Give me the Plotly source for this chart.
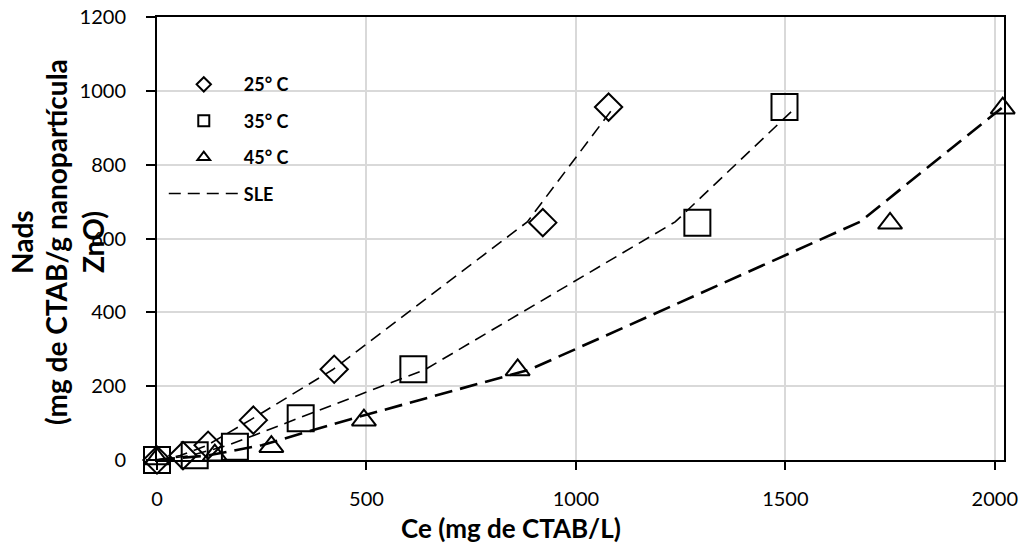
import plotly.graph_objects as go

# ---- data ----
x25 = [0, 62, 122, 230, 423, 921, 1078]
y25 = [0, 12, 40, 108, 246, 643, 956]
x35 = [0, 90, 186, 343, 612, 1290, 1498]
y35 = [0, 13, 36, 113, 246, 643, 956]
x45 = [0, 138, 273, 494, 861, 1750, 2019]
y45 = [3, 13, 36, 108, 244, 641, 953]

# SLE model curves (model Ce at the same Nads levels)
sle_y = [0, 12, 40, 110, 245, 645, 955]
sle25_x = [0, 55, 120, 225, 420, 884, 1090]
sle35_x = [0, 80, 170, 330, 640, 1237, 1525]
sle45_x = [0, 120, 250, 460, 890, 1678, 2018]

legend_names = ["25° C", "35° C", "45° C"]
x_ticks = [0, 500, 1000, 1500, 2000]
y_ticks = [0, 200, 400, 600, 800, 1000, 1200]

FONT = "Lato"
fig = go.Figure()

# SLE lines
fig.add_trace(go.Scatter(x=sle25_x, y=sle_y, mode="lines", showlegend=False,
                         line=dict(color="black", width=1.6, dash="12px,7px")))
fig.add_trace(go.Scatter(x=sle35_x, y=sle_y, mode="lines", showlegend=False,
                         line=dict(color="black", width=1.6, dash="12px,7px")))
fig.add_trace(go.Scatter(x=sle45_x, y=sle_y, mode="lines", showlegend=False,
                         line=dict(color="black", width=2.6, dash="18px,8px")))

# data markers
fig.add_trace(go.Scatter(x=x25, y=y25, mode="markers", showlegend=False, cliponaxis=False,
                         marker=dict(symbol="diamond-open", size=21, color="black",
                                     line=dict(width=2, color="black"))))
fig.add_trace(go.Scatter(x=x35, y=y35, mode="markers", showlegend=False, cliponaxis=False,
                         marker=dict(symbol="square-open", size=26, color="black",
                                     line=dict(width=2, color="black"))))
fig.add_trace(go.Scatter(x=x45, y=y45, mode="markers", showlegend=False, cliponaxis=False,
                         marker=dict(symbol="triangle-up-open", size=21, color="black",
                                     line=dict(width=2, color="black"))))

# legend-only entries
syms = ["diamond-open", "square-open", "triangle-up-open"]
for i, (nm, s) in enumerate(zip(legend_names, syms)):
    fig.add_trace(go.Scatter(x=[None], y=[None], mode="markers", name=nm,
                             legendgroup=f"g{i}",
                             marker=dict(symbol=s, size=11, color="black",
                                         line=dict(width=2, color="black"))))
fig.add_trace(go.Scatter(x=[None], y=[None], mode="lines", name="SLE",
                         legendgroup="g3",
                         line=dict(color="black", width=1.6, dash="12px,7px")))

fig.update_layout(
    width=1024, height=548,
    margin=dict(l=157, r=20, t=17, b=88, autoexpand=False),
    paper_bgcolor="white", plot_bgcolor="white",
    font=dict(family=FONT, color="black", size=19),
    showlegend=True,
    legend=dict(x=0.008, y=0.889, xanchor="left", yanchor="top",
                itemwidth=70,
                bgcolor="rgba(0,0,0,0)", tracegroupgap=10,
                font=dict(family=FONT, size=18, color="black", weight="bold")),
    xaxis=dict(range=[0, 2022], tickvals=x_ticks, ticktext=[str(v) for v in x_ticks],
               showgrid=True, gridcolor="#d9d9d9", gridwidth=1.5,
               showline=True, linecolor="black", linewidth=2, mirror=True,
               ticks="outside", ticklen=8, tickwidth=1.5, tickcolor="black",
               ticklabelstandoff=12, zeroline=False, automargin=False,
               tickfont=dict(family=FONT, size=20)),
    yaxis=dict(range=[0, 1200], tickvals=y_ticks, ticktext=[str(v) for v in y_ticks],
               showgrid=True, gridcolor="#d9d9d9", gridwidth=1.5,
               showline=True, linecolor="black", linewidth=2, mirror=True,
               ticks="outside", ticklen=9, tickwidth=1.5, tickcolor="black",
               ticklabelstandoff=16, zeroline=False, automargin=False,
               tickfont=dict(family=FONT, size=20)),
)

W, H = 847, 443
def px(xp):
    return (xp - 157) / W
def py(yp):
    return (460 - yp) / H

# x-axis title
fig.add_annotation(text="<b>Ce (mg de CTAB/L)</b>", xref="paper", yref="paper",
                   x=px(511), y=py(528), xanchor="center", yanchor="middle",
                   showarrow=False, font=dict(family=FONT, size=26, color="black"))

# y-axis title lines
ytitle_lines = [("Nads", 22), ("(mg de CTAB/g nanopartícula", 56), ("ZnO)", 93)]
for txt, xc in ytitle_lines:
    fig.add_annotation(text=f"<b>{txt}</b>", xref="paper", yref="paper",
                       x=px(xc), y=py(242), xanchor="center", yanchor="middle",
                       textangle=-90, showarrow=False,
                       font=dict(family=FONT, size=28, color="black"))

fig.write_html("out.html")
